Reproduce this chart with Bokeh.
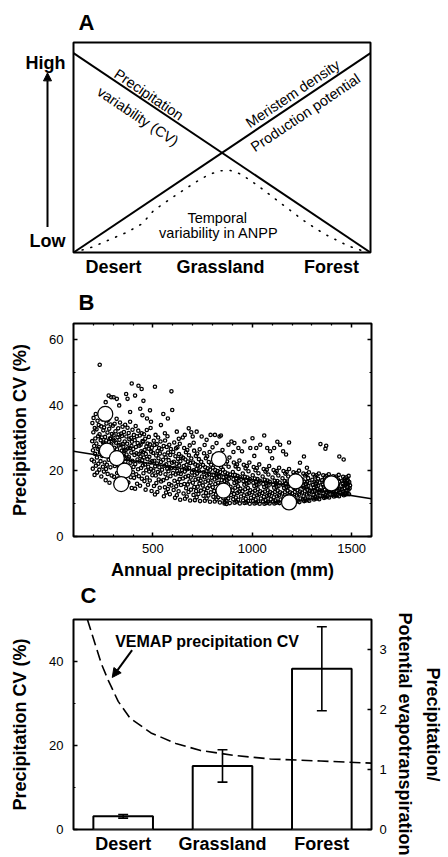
import math
from bokeh.plotting import figure
from bokeh.models import (Range1d, LinearAxis, FixedTicker, Label, Arrow, NormalHead,
                          CustomJSTickFormatter, Title)
from bokeh.layouts import column, row
from bokeh.embed import file_html
from bokeh.resources import INLINE

FONT = "Liberation Sans"

# ---------------- Panel A (conceptual) ----------------
A_biomes = ["Desert", "Grassland", "Forest"]
A_biome_pos = [0.135, 0.495, 0.869]
A_levels = ["Low", "High"]
A_level_pos = [0.03, 1.0]
cv_line_x = [0.0, 1.0]
cv_line_y = [1.0, 0.0]
meristem_x = [0.0, 1.0]
meristem_y = [0.0, 1.0]
anpp_x = [0.0, 0.063, 0.102, 0.181, 0.231, 0.270, 0.343, 0.416, 0.456, 0.495, 0.529,
          0.562, 0.596, 0.635, 0.708, 0.775, 0.843, 0.922, 0.989]
anpp_y = [0.0, 0.027, 0.052, 0.102, 0.144, 0.211, 0.286, 0.357, 0.391, 0.410, 0.411,
          0.394, 0.361, 0.319, 0.236, 0.160, 0.094, 0.035, 0.0]

# ---------------- Panel B (VEMAP cells: annual precipitation mm, CV %) ----------------
cells_dry = [
    (192,23.4),(194,29.1),(195,34.6),(197,20.7),(198,26.3),(200,31.8),(201,36.2),(203,22.9),(204,27.6),(206,18.8),
    (207,33.1),(209,25.2),(210,29.9),(212,37.4),(213,21.6),(215,28.4),(216,32.7),(218,24.1),(219,19.5),(221,35.3),
    (222,26.8),(224,30.6),(225,22.2),(227,34.0),(228,27.3),(230,20.4),(231,31.2),(233,25.7),(234,36.8),(236,23.0),
    (237,29.4),(239,33.6),(240,18.3),(242,26.1),(243,30.2),(245,24.6),(246,35.7),(248,21.3),(249,28.7),(250,32.4),
    (251,25.1),(253,19.8),(254,33.3),(256,27.9),(257,22.6),(259,30.4),(260,36.1),(262,17.2),(263,24.8),(265,29.3),
    (266,34.5),(268,21.9),(269,27.2),(271,31.7),(272,19.1),(274,25.9),(275,35.6),(277,23.4),(278,28.8),(280,32.9),
    (281,16.4),(283,26.5),(284,30.0),(286,21.1),(287,34.2),(289,24.3),(290,28.1),(292,18.6),(293,31.3),(295,26.0),
    (296,22.7),(298,33.8),(299,29.6),(252,28.3),(264,20.6),(276,26.9),(288,29.8),(297,24.9),
    (301,23.6),(302,30.9),(304,18.2),(305,27.1),(307,34.4),(308,21.5),(310,25.8),(311,32.1),(313,15.9),(314,28.6),
    (316,22.4),(317,35.9),(319,26.6),(320,19.4),(322,30.3),(323,24.0),(325,33.0),(326,17.7),(328,27.8),(329,21.0),
    (331,29.5),(332,25.3),(334,34.8),(335,19.9),(337,28.0),(338,23.2),(340,31.4),(341,16.8),(343,26.2),(344,30.7),
    (346,22.0),(347,33.5),(349,24.7),(306,29.2),(318,23.8),(327,31.1),(339,21.8),(348,28.2),
    (351,27.4),(352,20.3),(354,31.9),(355,24.4),(357,17.3),(358,29.0),(360,34.1),(361,22.8),(363,26.4),(364,15.2),
    (366,30.5),(367,25.0),(369,19.2),(370,28.3),(372,33.2),(373,21.4),(375,26.9),(376,16.5),(378,31.6),(379,24.2),
    (381,29.7),(382,20.0),(384,27.0),(385,35.0),(387,22.5),(388,18.1),(390,30.1),(391,25.6),(393,14.8),(394,28.9),
    (396,23.1),(397,32.6),(399,19.6),(356,26.1),(374,23.7),(392,27.6),
    (401,26.7),(402,21.2),(404,31.0),(405,17.9),(407,24.9),(408,29.4),(410,14.6),(411,22.1),(413,33.7),(414,27.3),
    (416,19.0),(417,25.4),(419,30.6),(420,16.1),(422,23.5),(423,28.5),(425,20.5),(426,32.3),(428,25.1),(429,18.4),
    (431,27.7),(432,22.9),(434,30.8),(435,15.5),(437,24.5),(438,28.0),(440,20.9),(441,26.0),(443,31.5),(444,17.6),
    (446,23.3),(447,29.1),(449,21.7),(449,25.7),
    (451,28.9),(452,19.3),(454,24.1),(455,31.2),(457,16.9),(458,26.4),(460,22.0),(461,29.8),(463,14.3),(464,25.2),
    (466,20.2),(467,27.5),(469,32.5),(470,18.0),(472,23.6),(473,28.4),(475,15.8),(476,21.3),(478,26.8),(479,30.4),
    (481,19.8),(482,24.3),(484,17.1),(485,28.1),(487,22.6),(488,33.1),(490,20.6),(491,25.9),(493,13.9),(494,27.1),
    (496,23.0),(497,18.7),
]
cells_mid = [
    (501,25.5),(502,20.1),(504,29.2),(505,15.4),(507,23.1),(508,27.9),(510,12.8),(511,21.4),(513,31.0),(514,18.6),
    (516,24.7),(517,16.3),(519,28.2),(520,22.3),(522,13.6),(523,26.1),(525,19.7),(526,30.2),(528,23.9),(529,17.4),
    (531,27.0),(532,21.1),(534,14.9),(535,25.3),(537,19.2),(538,29.0),(540,22.7),(541,16.8),(543,26.6),(546,20.4),
    (551,23.4),(552,17.2),(554,27.6),(555,12.3),(557,21.6),(558,25.0),(560,15.0),(561,29.3),(563,19.0),(564,24.2),
    (566,13.4),(567,22.0),(569,27.3),(570,17.8),(572,20.7),(573,30.6),(575,14.5),(576,25.6),(578,19.9),(579,23.3),
    (581,16.0),(582,28.0),(584,21.2),(585,12.9),(587,24.9),(588,18.4),(590,26.7),(591,20.8),(593,15.6),(596,22.5),
    (601,19.4),(602,25.8),(604,14.2),(605,22.8),(607,28.7),(608,17.0),(610,21.0),(611,11.8),(613,24.5),(614,18.9),
    (616,26.9),(617,15.3),(619,22.2),(620,12.6),(622,20.0),(623,27.2),(625,16.6),(626,23.7),(628,19.3),(629,13.8),
    (631,25.2),(632,21.7),(634,17.5),(635,28.3),(637,11.2),(638,23.0),(640,19.1),(641,15.7),(643,24.4),(646,20.3),
    (651,17.7),(652,24.0),(654,13.1),(655,21.5),(657,27.0),(658,16.0),(660,19.8),(661,11.5),(663,23.5),(664,18.2),
    (666,25.7),(667,14.7),(669,21.9),(670,12.2),(672,20.5),(673,26.4),(675,15.9),(676,22.9),(678,18.5),(679,13.6),
    (681,24.8),(682,20.9),(684,16.8),(685,27.8),(687,11.0),(688,22.4),(690,18.0),(691,14.3),(693,23.8),(696,19.5),
    (701,16.4),(702,22.6),(704,12.7),(705,20.2),(707,26.2),(708,15.1),(710,18.7),(711,11.1),(713,22.0),(714,17.3),
    (716,24.6),(717,13.9),(719,20.6),(720,12.0),(722,19.2),(723,25.3),(725,15.2),(726,21.7),(728,17.6),(729,13.0),
    (731,23.6),(732,19.9),(734,16.2),(735,26.6),(737,10.8),(738,21.3),(740,17.0),(741,14.0),(743,22.8),(746,18.3),
    (751,15.6),(752,21.8),(754,12.4),(755,19.6),(757,25.4),(758,14.4),(760,18.1),(761,10.9),(763,21.1),(764,16.7),
    (766,23.9),(767,13.3),(769,19.9),(770,11.6),(772,18.6),(773,24.5),(775,14.8),(776,20.8),(778,17.1),(779,12.5),
    (781,22.7),(782,19.0),(784,15.5),(785,25.8),(787,10.6),(788,20.4),(790,16.5),(791,13.5),(793,21.9),(796,17.9),
    (801,15.0),(802,21.0),(804,12.1),(805,18.8),(807,24.7),(808,13.9),(810,17.4),(811,10.7),(813,20.3),(814,16.0),
    (816,23.0),(817,12.8),(819,19.1),(820,11.3),(822,17.9),(823,23.8),(825,14.2),(826,20.0),(828,16.4),(829,12.0),
    (831,22.1),(832,18.2),(834,14.9),(835,25.0),(837,10.4),(838,19.7),(840,15.8),(841,13.1),(843,21.2),(846,17.2),
    (851,14.6),(852,20.4),(854,11.7),(855,18.1),(857,23.6),(858,13.4),(860,16.9),(861,10.5),(863,19.6),(864,15.4),
    (866,22.2),(867,12.3),(869,18.4),(870,10.9),(872,17.2),(873,22.9),(875,13.8),(876,19.2),(878,15.9),(879,11.6),
    (881,21.3),(882,17.6),(884,14.3),(885,24.1),(887,10.2),(888,18.9),(890,15.2),(893,12.7),
    (901,14.1),(902,19.7),(904,11.4),(905,17.5),(907,22.6),(908,13.0),(910,16.3),(911,10.3),(913,18.8),(914,14.9),
    (916,21.4),(917,11.9),(919,17.8),(920,10.6),(922,16.6),(923,22.0),(925,13.3),(926,18.5),(928,15.3),(929,11.2),
    (931,20.6),(932,16.9),(934,13.7),(935,23.2),(937,10.1),(938,18.1),(940,14.6),(943,12.2),
    (951,13.8),(952,19.2),(954,11.0),(955,16.9),(957,21.9),(958,12.6),(960,15.8),(961,10.2),(963,18.2),(964,14.4),
    (966,20.8),(967,11.5),(969,17.2),(970,10.4),(972,16.1),(973,21.5),(975,12.9),(976,18.0),(978,14.8),(979,10.8),
    (981,19.9),(982,16.4),(984,13.2),(985,22.6),(987,10.0),(988,17.5),(990,14.1),(993,11.8),
]
cells_wet = [
    (1001,13.5),(1002,18.7),(1004,10.8),(1005,16.4),(1007,21.2),(1008,12.3),(1010,15.4),(1011,10.1),(1013,17.7),(1014,14.0),
    (1016,20.2),(1017,11.3),(1019,16.8),(1020,10.3),(1022,15.7),(1023,20.9),(1025,12.6),(1026,17.5),(1028,14.4),(1029,10.7),
    (1031,19.3),(1032,15.9),(1034,12.9),(1035,22.0),(1037,10.0),(1038,17.0),(1040,13.8),(1043,11.6),
    (1051,13.3),(1052,18.3),(1054,10.7),(1055,16.0),(1057,20.6),(1058,12.1),(1060,15.1),(1061,10.0),(1063,17.3),(1064,13.7),
    (1066,19.8),(1067,11.1),(1069,16.5),(1070,10.2),(1072,15.4),(1073,20.4),(1075,12.4),(1076,17.1),(1078,14.1),(1079,10.6),
    (1081,18.9),(1082,15.6),(1084,12.7),(1085,21.5),(1087,10.1),(1088,16.7),(1090,13.6),(1093,11.4),
    (1101,13.2),(1102,18.0),(1104,10.7),(1105,15.8),(1107,20.3),(1108,12.0),(1110,14.9),(1111,10.1),(1113,17.0),(1114,13.6),
    (1116,19.5),(1117,11.0),(1119,16.3),(1120,10.3),(1122,15.2),(1123,20.0),(1125,12.3),(1126,16.9),(1128,14.0),(1129,10.6),
    (1131,18.6),(1132,15.4),(1134,12.6),(1135,21.0),(1137,10.2),(1138,16.5),(1140,13.5),(1143,11.3),
    (1151,13.1),(1152,17.8),(1154,10.8),(1155,15.7),(1157,20.0),(1158,12.0),(1160,14.8),(1161,10.2),(1163,16.9),(1164,13.5),
    (1166,19.2),(1167,11.0),(1169,16.2),(1170,10.4),(1172,15.1),(1173,19.7),(1175,12.3),(1176,16.8),(1178,14.0),(1179,10.7),
    (1181,18.3),(1182,15.3),(1184,12.6),(1185,20.6),(1187,10.3),(1188,16.4),(1190,13.5),(1193,11.4),
    (1201,13.2),(1202,17.6),(1204,11.0),(1205,15.6),(1207,19.6),(1208,12.1),(1210,14.8),(1211,10.4),(1213,16.8),(1214,13.6),
    (1216,18.9),(1217,11.2),(1219,16.1),(1220,10.6),(1222,15.1),(1223,19.4),(1225,12.5),(1226,16.7),(1228,14.1),(1229,10.9),
    (1231,18.0),(1232,15.3),(1234,12.8),(1235,20.1),(1237,10.5),(1238,16.4),(1240,13.7),(1243,11.6),
    (1251,13.4),(1252,17.4),(1254,11.3),(1255,15.6),(1257,19.2),(1258,12.3),(1260,14.9),(1261,10.8),(1263,16.7),(1264,13.8),
    (1266,18.6),(1267,11.6),(1269,16.1),(1270,11.0),(1272,15.2),(1273,19.0),(1275,12.8),(1276,16.7),(1278,14.3),(1279,11.2),
    (1281,17.8),(1282,15.4),(1284,13.1),(1285,19.6),(1287,10.9),(1288,16.4),(1290,13.9),(1293,12.0),
    (1301,13.7),(1302,17.3),(1304,11.8),(1305,15.7),(1307,18.9),(1308,12.7),(1310,15.0),(1311,11.3),(1313,16.7),(1314,14.0),
    (1316,18.3),(1317,12.1),(1319,16.2),(1320,11.5),(1322,15.3),(1323,18.7),(1325,13.1),(1326,16.8),(1328,14.5),(1329,11.8),
    (1331,17.6),(1332,15.5),(1334,13.4),(1335,19.2),(1337,11.4),(1338,16.5),(1340,14.1),(1343,12.4),
    (1351,14.0),(1352,17.2),(1354,12.3),(1355,15.8),(1357,18.7),(1358,13.1),(1360,15.2),(1361,11.8),(1363,16.8),(1364,14.3),
    (1366,18.1),(1367,12.6),(1369,16.3),(1370,12.0),(1372,15.5),(1373,18.5),(1375,13.5),(1376,16.9),(1378,14.8),(1379,12.3),
    (1381,17.5),(1382,15.7),(1384,13.8),(1385,19.0),(1387,11.9),(1388,16.6),(1390,14.4),(1393,12.8),
    (1401,14.2),(1402,17.1),(1404,12.7),(1405,15.9),(1407,18.4),(1408,13.4),(1410,15.4),(1411,12.2),(1413,16.9),(1414,14.6),
    (1416,17.9),(1417,13.0),(1419,16.4),(1420,12.4),(1422,15.7),(1423,18.3),(1425,13.8),(1426,17.0),(1428,15.0),(1429,12.7),
    (1431,17.4),(1432,15.9),(1434,14.1),(1435,18.8),(1437,12.3),(1438,16.7),(1440,14.6),(1443,13.2),
    (1451,14.4),(1452,17.0),(1454,13.0),(1455,16.0),(1457,18.2),(1458,13.7),(1460,15.5),(1461,12.6),(1463,16.9),(1464,14.8),
    (1466,17.7),(1467,13.3),(1469,16.4),(1470,12.8),(1472,15.8),(1473,18.1),(1475,14.0),(1476,17.0),(1478,15.1),(1479,13.0),
    (1481,17.2),(1482,16.0),(1484,14.3),(1485,18.5),(1487,12.9),(1488,16.6),(1490,14.7),(1492,15.6),
]
cells_scattered = [
    (232,52.4),(262,41),(277,43),(290,42.5),(302,42.5),(318,42),(330,40),(365,43.5),(372,42),(385,38),
    (393,46.7),(410,43),(427,46),(443,45),(452,41.4),(436,39),(447,37),(470,36),(485,38.5),(490,35),
    (510,45.7),(540,34),(552,37.4),(575,36),(593,44.3),(597,38.6),(620,32),(660,31),(680,33),(693,31.8),
    (700,30.5),(720,32),(745,30.5),(770,29.5),(790,31),(812,31),(820,28.5),(835,30.5),(842,30.8),(860,10.1),
    (870,9.9),(880,28),(895,29),(910,28.5),(930,27),(948,26),(960,29),(990,27),(1001,30),(1020,27),
    (1040,28),(1060,30.8),(1075,27),(1090,26),(1110,27),(1126,28.9),(1140,28),(1155,26),(1170,25),(1185,28.7),
    (1240,22.5),(1260,24.4),(1275,21),(1343,28.2),(1368,26.8),(1372,27.7),(1438,24.4),(1460,23.5),
    (560,31.5),(630,29.8),(650,30.2),(705,28.6),(760,27.9),(800,27.2),(850,26.4),(905,25.8),(1010,24.6),(1100,23.9),
]
site_precip = [260, 268, 318, 357, 340, 832, 855, 1185, 1218, 1398]
site_cv = [37.4, 26.2, 23.9, 20.1, 16.0, 23.6, 14.0, 10.4, 16.8, 16.2]
fit_precip = [100, 1600]
fit_cv = [26.0, 11.5]

# ---------------- Panel C ----------------
biomes = ["Desert", "Grassland", "Forest"]
ppet_mean = [0.22, 1.06, 2.68]
ppet_low = [0.19, 0.79, 1.98]
ppet_high = [0.25, 1.33, 3.38]
vemap_pos = [0.14, 0.22, 0.28, 0.35, 0.45, 0.57, 0.78, 1.03, 1.28, 1.63, 1.98, 2.49, 3.0]
vemap_cv = [50, 44, 39.5, 35.5, 30.5, 26.5, 23, 20.5, 18.8, 17.6, 16.8, 16.3, 15.8]


def base_fig(w, h, xr, yr, top, bottom, left, right, **kw):
    p = figure(width=w, height=h, x_range=xr, y_range=yr, output_backend="svg",
               toolbar_location=None, title=None, min_border_left=left, min_border_right=right,
               min_border_top=top, min_border_bottom=bottom, **kw)
    p.grid.visible = False
    p.outline_line_color = "black"
    p.outline_line_width = 2
    p.background_fill_color = "white"
    p.border_fill_color = "white"
    return p


def style_axis(ax, size="13px", bold=False, tick_in=0, minor_in=0, standoff=6):
    ax.major_label_text_font = FONT
    ax.major_label_text_font_size = size
    ax.major_label_text_font_style = "bold" if bold else "normal"
    ax.major_label_text_color = "black"
    ax.major_tick_in = tick_in
    ax.major_tick_out = 0
    ax.minor_tick_in = minor_in
    ax.minor_tick_out = 0
    ax.major_tick_line_width = 1.5
    ax.minor_tick_line_width = 1.2
    ax.major_tick_line_color = "black" if tick_in else None
    ax.minor_tick_line_color = "black" if minor_in else None
    ax.axis_line_color = None
    ax.major_label_standoff = standoff
    ax.axis_label_text_font = FONT
    ax.axis_label_text_font_size = "18px"
    ax.axis_label_text_font_style = "bold"
    ax.axis_label_text_color = "black"


def txt(x, y, t, size="14.5px", bold=False, angle=0.0, align="center"):
    return Label(x=x, y=y, text=t, angle=angle, text_font=FONT, text_font_size=size,
                 text_font_style="bold" if bold else "normal", text_color="black",
                 text_align=align, text_baseline="middle")


def letter(t, offset, standoff, valign="bottom"):
    return Title(text=t, align="left", offset=offset, standoff=standoff, vertical_align=valign,
                 text_font=FONT, text_font_size="22px", text_font_style="bold", text_color="black")


# ---- Panel A ----
pAL = base_fig(71, 279, Range1d(0, 71), Range1d(-0.035, 1.113), top=30, bottom=20, left=0, right=0,
               x_axis_type=None, y_axis_type=None)
pAL.outline_line_color = None
for lv, pos in zip(A_levels, A_level_pos):
    pAL.add_layout(txt(65, pos, lv, size="18px", bold=True, align="right"))
pAL.add_layout(Arrow(end=NormalHead(size=8, fill_color="black", line_color="black"),
                     x_start=47, y_start=0.105, x_end=47, y_end=0.947,
                     line_width=2, line_color="black"))

pA = base_fig(377, 279, Range1d(0, 1), Range1d(0, 1.053), top=42, bottom=27, left=2, right=78,
              y_axis_type=None)
style_axis(pA.xaxis[0], size="18px", bold=True, standoff=4)
pA.xaxis[0].ticker = FixedTicker(ticks=A_biome_pos)
pA.xaxis[0].major_label_overrides = dict(zip(A_biome_pos, A_biomes))

pA.line(cv_line_x, cv_line_y, line_color="black", line_width=2)
pA.line(meristem_x, meristem_y, line_color="black", line_width=2)
pA.line(anpp_x, anpp_y, line_color="black", line_width=1.6, line_dash="1 8", line_cap="round")

ang = math.atan2(199.5, 297)
for tx, ty, t, a in [(0.2536, 0.792, "Precipitation", -ang),
                     (0.2165, 0.683, "variability (CV)", -ang),
                     (0.738, 0.796, "Meristem density", ang),
                     (0.781, 0.701, "Production potential", ang)]:
    pA.add_layout(txt(tx, ty, t, angle=a))
pA.add_layout(txt(0.484, 0.174, "Temporal"))
pA.add_layout(txt(0.489, 0.099, "variability in ANPP"))
pA.add_layout(letter("A", 5, 15), "above")

# ---- Panel B ----
pB = base_fig(448, 331, Range1d(100, 1600), Range1d(0, 65), top=44, bottom=74, left=73, right=77)
x_minor = [v for v in range(100, 1700, 100) if v % 500]
style_axis(pB.xaxis[0], tick_in=4, minor_in=2, standoff=7)
pB.xaxis[0].ticker = FixedTicker(ticks=[500, 1000, 1500], minor_ticks=x_minor)
pB.xaxis[0].axis_label = "Annual precipitation (mm)"
pB.xaxis[0].axis_label_standoff = 4
style_axis(pB.yaxis[0], tick_in=4, minor_in=2, standoff=10)
pB.yaxis[0].ticker = FixedTicker(ticks=[0, 20, 40, 60], minor_ticks=[10, 30, 50])
pB.yaxis[0].axis_label = "Precipitation CV (%)"
pB.yaxis[0].axis_label_standoff = 16
blank = "return ''"
topB = LinearAxis(ticker=FixedTicker(ticks=[500, 1000, 1500], minor_ticks=x_minor),
                  formatter=CustomJSTickFormatter(code=blank))
style_axis(topB, size="1px", tick_in=4, minor_in=2, standoff=0)
pB.add_layout(topB, "above")
rightB = LinearAxis(ticker=FixedTicker(ticks=[0, 20, 40, 60], minor_ticks=[10, 30, 50]),
                    formatter=CustomJSTickFormatter(code=blank))
style_axis(rightB, size="1px", tick_in=4, minor_in=2, standoff=0)
pB.add_layout(rightB, "right")

pB.line(fit_precip, fit_cv, line_color="black", line_width=1.6)
cells = cells_dry + cells_mid + cells_wet + cells_scattered
pB.scatter([q[0] for q in cells], [q[1] for q in cells], size=3.3, marker="circle",
           fill_color=None, line_color="black", line_width=1.3)
pB.scatter(site_precip, site_cv, size=15, marker="circle", fill_color="white",
           line_color="black", line_width=1.2)
pB.add_layout(letter("B", 5, 17), "above")
# the letter of the third panel sits right under this panel's axis title
pB.add_layout(letter("C", 7, 0, valign="top"), "below")

# ---- Panel C ----
pC = base_fig(448, 247, Range1d(0, 3), Range1d(0, 50), top=9, bottom=28, left=73, right=77)
pC.extra_y_ranges = {"ppet": Range1d(0, 3.5)}
bar_x = [i + 0.5 for i in range(len(biomes))]
style_axis(pC.xaxis[0], size="18px", bold=True, standoff=4)
pC.xaxis[0].ticker = FixedTicker(ticks=bar_x)
pC.xaxis[0].major_label_overrides = dict(zip(bar_x, biomes))
style_axis(pC.yaxis[0], tick_in=4, minor_in=2, standoff=10)
pC.yaxis[0].ticker = FixedTicker(ticks=[0, 20, 40], minor_ticks=[10, 30])
pC.yaxis[0].axis_label = "Precipitation CV (%)"
pC.yaxis[0].axis_label_standoff = 16
rightC = LinearAxis(y_range_name="ppet", ticker=FixedTicker(ticks=[0, 1, 2, 3]))
style_axis(rightC, tick_in=4, standoff=8)
pC.add_layout(rightC, "right")
pC.add_layout(Title(text="Potential evapotranspiration", align="left", offset=-7, standoff=10,
                    text_font=FONT, text_font_size="18px", text_font_style="bold",
                    text_color="black"), "right")
pC.add_layout(Title(text="Precipitation/", align="center", standoff=2,
                    text_font=FONT, text_font_size="18px", text_font_style="bold",
                    text_color="black"), "right")

pC.vbar(x=bar_x, top=ppet_mean, width=0.6, bottom=0, y_range_name="ppet",
        fill_color="white", line_color="black", line_width=2)
cap = 0.05
pC.segment(x0=bar_x, y0=ppet_low, x1=bar_x, y1=ppet_high, y_range_name="ppet",
           line_color="black", line_width=1.6)
pC.segment(x0=[v - cap for v in bar_x], y0=ppet_low, x1=[v + cap for v in bar_x], y1=ppet_low,
           y_range_name="ppet", line_color="black", line_width=1.6)
pC.segment(x0=[v - cap for v in bar_x], y0=ppet_high, x1=[v + cap for v in bar_x], y1=ppet_high,
           y_range_name="ppet", line_color="black", line_width=1.6)
pC.line(vemap_pos, vemap_cv, line_color="black", line_width=1.6, line_dash="11 5")
pC.add_layout(txt(1.346, 44.8, "VEMAP precipitation CV", size="16px", bold=True))
pC.add_layout(Arrow(end=NormalHead(size=9, fill_color="black", line_color="black"),
                    x_start=0.59, y_start=42.7, x_end=0.39, y_end=36.2,
                    line_width=2, line_color="black"))

layout = column(row(pAL, pA), pB, pC)
open("out.html", "w").write(file_html(layout, INLINE))
